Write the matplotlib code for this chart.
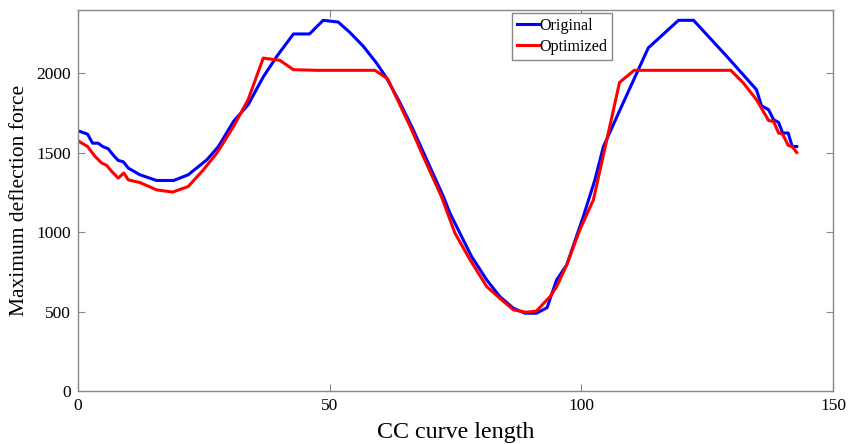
import matplotlib
matplotlib.use('Agg')
import matplotlib.pyplot as plt

# Data
orig_x = [0, 1.9, 2.9, 4, 4.9, 6, 7, 8, 9, 10, 12.3, 15.6, 19, 21.9, 25.6, 27.9,
          30.9, 33.8, 36.8, 39.5, 42.8, 46, 48.7, 51.7, 54, 56.7, 59.3, 61.3, 64,
          66.6, 69.3, 72.6, 73.9, 78.2, 81.2, 83.8, 86.5, 88.8, 91.1, 93.2, 95.1,
          97.1, 100.4, 102.7, 104.4, 107.7, 113.3, 119.3, 122.3, 128.9, 134.8,
          135.8, 137.2, 138.2, 139.2, 140, 141.1, 141.9, 142.8]
orig_y = [1639, 1618, 1561, 1561, 1540, 1526, 1486, 1452, 1444, 1404, 1362, 1326,
          1326, 1362, 1456, 1540, 1698, 1803, 1978, 2108, 2249, 2249, 2335, 2324,
          2259, 2171, 2066, 1972, 1814, 1646, 1456, 1225, 1120, 847, 700, 595,
          521, 490, 490, 525, 700, 794, 1099, 1330, 1540, 1772, 2161, 2335, 2335,
          2108, 1898, 1797, 1772, 1709, 1692, 1625, 1625, 1540, 1540]

opt_x = [0, 1.9, 3.4, 4.7, 5.7, 6.7, 8, 9.1, 10, 12.3, 15.6, 18.8, 21.9, 24.9,
         27.6, 30.9, 33.8, 36.8, 40.1, 42.8, 47.4, 59, 61.5, 66, 68.6, 72.2, 74.9,
         77.9, 81.2, 83.8, 86.5, 89.1, 91.1, 93.8, 95.1, 97.1, 99.7, 102.4,
         107.6, 110.5, 129.7, 132.2, 134.8, 137.2, 138.2, 139.2, 140, 141.1,
         141.9, 142.8]
opt_y = [1576, 1540, 1477, 1436, 1421, 1383, 1341, 1373, 1330, 1313, 1267, 1253,
         1288, 1393, 1499, 1666, 1835, 2097, 2083, 2024, 2020, 2020, 1967, 1666,
         1477, 1225, 994, 826, 658, 584, 511, 496, 504, 595, 658, 794, 1015, 1204,
         1944, 2020, 2020, 1940, 1835, 1704, 1698, 1625, 1618, 1547, 1540, 1502]

plt.rcParams['font.family'] = ['Liberation Serif', 'DejaVu Serif']

fig = plt.figure(figsize=(8.59, 4.44), dpi=100)
ax = fig.add_axes([0.0908, 0.1194, 0.8789, 0.8581])

ax.plot(orig_x, orig_y, color='#0000ff', lw=2.2, label='Original')
ax.plot(opt_x, opt_y, color='#ff0000', lw=2.2, label='Optimized')

ax.set_xlim(0, 150)
ax.set_ylim(0, 2400)
ax.set_xticks([0, 50, 100, 150])
ax.set_yticks([0, 500, 1000, 1500, 2000])

for s in ax.spines.values():
    s.set_color('#888888')
    s.set_linewidth(1)
ax.tick_params(direction='in', length=5, width=0.8, color='#888888',
               top=True, right=True, labelsize=12.5, pad=5)

ax.set_xlabel('CC curve length', fontsize=17.3, labelpad=6)
ax.set_ylabel('Maximum deflection force', fontsize=15.5, labelpad=5)

leg = ax.legend(loc='upper left', bbox_to_anchor=(0.575, 0.992), fontsize=11.6,
                handlelength=1.35, handletextpad=0.05, borderpad=0.3,
                labelspacing=0.3, fancybox=False, framealpha=1,
                borderaxespad=0)
leg.get_frame().set_edgecolor('#888888')
leg.get_frame().set_linewidth(1)

plt.savefig('out.png', dpi=100)
